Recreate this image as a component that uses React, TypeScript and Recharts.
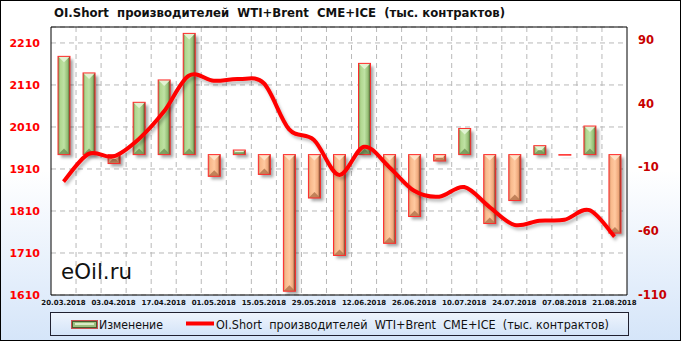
import React from 'react';
import { ComposedChart, Bar, Line, XAxis, YAxis, CartesianGrid, Legend, ReferenceLine } from 'recharts';

const categories = ['20.03.2018','27.03.2018','03.04.2018','10.04.2018','17.04.2018','24.04.2018','01.05.2018','08.05.2018','15.05.2018','22.05.2018','29.05.2018','05.06.2018','12.06.2018','19.06.2018','26.06.2018','03.07.2018','10.07.2018','17.07.2018','24.07.2018','31.07.2018','07.08.2018','14.08.2018','21.08.2018'];
const changeValues = [77, 64, -7, 41, 58.5, 95, -17, 3.6, -15.5, -107, -34, -79, 71.5, -69.5, -48.5, -5, 20.5, -54, -36, 7, -0.4, 22.4, -61.5];
const oiValues = [1880, 1946, 1940, 1981, 2046, 2132, 2120, 2124, 2114, 2005, 1979, 1896, 1963, 1915, 1858, 1844, 1867, 1820, 1777, 1787, 1789, 1812, 1749];
const leftTicks = [1610, 1710, 1810, 1910, 2010, 2110, 2210];
const rightTicks = [-110, -60, -10, 40, 90];
const leftDomain = [1610, 2248];
const rightDomain = [-110, 100];
const titleText = 'OI.Short  производителей  WTI+Brent  CME+ICE  (тыс. контрактов)';
const barName = 'Изменение';
const lineName = 'OI.Short  производителей  WTI+Brent  CME+ICE  (тыс. контрактов)';
const watermark = 'eOil.ru';

const data = categories.map((c, i) => ({ date: c, change: changeValues[i], oi: oiValues[i] }));

const catmullRom = (context: any) => {
  let pts: number[][] = [];
  return {
    areaStart() {},
    areaEnd() {},
    lineStart() { pts = []; },
    point(x: number, y: number) { pts.push([+x, +y]); },
    lineEnd() {
      if (!pts.length) return;
      context.moveTo(pts[0][0], pts[0][1]);
      for (let i = 0; i < pts.length - 1; i++) {
        const p0 = pts[i - 1] || pts[i];
        const p1 = pts[i];
        const p2 = pts[i + 1];
        const p3 = pts[i + 2] || pts[i + 1];
        context.bezierCurveTo(
          p1[0] + (p2[0] - p0[0]) / 6, p1[1] + (p2[1] - p0[1]) / 6,
          p2[0] - (p3[0] - p1[0]) / 6, p2[1] - (p3[1] - p1[1]) / 6,
          p2[0], p2[1]
        );
      }
    },
  };
};

const BevelBar = (props: any) => {
  const { x, y, width, height, payload } = props;
  if (x == null || y == null) return null;
  const top = height < 0 ? y + height : y;
  const h = Math.abs(height);
  const w = width;
  const pos = payload && payload.change >= 0;
  const b = Math.min(w / 2, h / 2, 6);
  return (
    <g>
      <rect x={x + 3} y={top + 3} width={w} height={h} fill="#000" opacity={0.35} filter="url(#blurShadow)" />
      <rect x={x} y={top} width={w} height={h} fill={pos ? 'url(#gradPos)' : 'url(#gradNeg)'} />
      {h > 2 && (
        <polygon
          points={`${x},${top} ${x + w},${top} ${x + w - b},${top + b} ${x + b},${top + b}`}
          fill={pos ? '#e6f5d8' : '#ffe6cc'}
          opacity={0.9}
        />
      )}
      {h > 2 && (
        <polygon
          points={`${x},${top + h} ${x + w},${top + h} ${x + w - b},${top + h - b} ${x + b},${top + h - b}`}
          fill={pos ? '#6f8f52' : '#b2724a'}
          opacity={0.8}
        />
      )}
      <rect x={x} y={top} width={w} height={Math.max(h, 0.5)} fill="none" stroke="#ff2a2a" strokeWidth={1} />
    </g>
  );
};

const LegendContent = () => (
  <div style={{ width: 579, height: 24, border: '1px solid #202030', background: 'linear-gradient(to bottom, #eef4fd, #d4e4f8)', boxSizing: 'border-box' }}>
    <svg width={577} height={22} style={{ display: 'block' }}>
      <rect x={20} y={7} width={27} height={9} fill="#c95050" />
      <rect x={21.5} y={8.5} width={24} height={6} fill="#9cc07e" stroke="#4a5a30" strokeWidth={1} />
      <rect x={24} y={10} width={19} height={2} fill="#d9ecc8" />
      <text x={48} y={15.5} xmlSpace="preserve" style={{ whiteSpace: 'pre' }} fontFamily="DejaVu Sans, Verdana, sans-serif" fontSize={11.5} fill="#111" textLength={64} lengthAdjust="spacingAndGlyphs">{barName}</text>
      <line x1={135} y1={10.5} x2={163} y2={10.5} stroke="#ff0000" strokeWidth={4} />
      <text x={165} y={15.5} xmlSpace="preserve" style={{ whiteSpace: 'pre' }} fontFamily="DejaVu Sans, Verdana, sans-serif" fontSize={11.5} fill="#111" textLength={393} lengthAdjust="spacingAndGlyphs">{lineName}</text>
    </svg>
  </div>
);

export default function App() {
  const vGen = ({ offset }: any) => {
    const arr: number[] = [];
    const n = categories.length;
    for (let k = 1; k < n; k++) arr.push(offset.left + (k * offset.width) / n);
    return arr;
  };
  return (
    <div style={{ position: 'absolute', left: 0, top: 0, width: 681, height: 341, background: 'linear-gradient(to bottom, #ffffff 0%, #ffffff 50%, #d5e5f9 100%)' }}>
      <ComposedChart width={681} height={341} data={data} margin={{ top: 27, right: 0, bottom: 0, left: 0 }} barCategoryGap={0}>
        <defs>
          <filter id="blurShadow" x="-50%" y="-50%" width="200%" height="200%">
            <feGaussianBlur stdDeviation="1.5" />
          </filter>
          <filter id="lineShadow" x="-10%" y="-10%" width="120%" height="130%">
            <feDropShadow dx="2" dy="3" stdDeviation="1.5" floodColor="#000" floodOpacity="0.25" />
          </filter>
          <linearGradient id="gradPos" x1="0" y1="0" x2="1" y2="0">
            <stop offset="0%" stopColor="#6d8a4c" />
            <stop offset="18%" stopColor="#b0d78f" />
            <stop offset="50%" stopColor="#bfe2a4" />
            <stop offset="80%" stopColor="#94be74" />
            <stop offset="100%" stopColor="#4a4a25" />
          </linearGradient>
          <linearGradient id="gradNeg" x1="0" y1="0" x2="1" y2="0">
            <stop offset="0%" stopColor="#c98a62" />
            <stop offset="18%" stopColor="#f8b98c" />
            <stop offset="50%" stopColor="#ffc9a0" />
            <stop offset="80%" stopColor="#eea77a" />
            <stop offset="100%" stopColor="#5e2a18" />
          </linearGradient>
        </defs>
        <CartesianGrid yAxisId="left" fill="#ffffff" stroke="#b8b8b8" strokeDasharray="5 4" verticalCoordinatesGenerator={vGen} />
        <XAxis dataKey="date" interval={1} height={46} tickLine={false} tickSize={0} tickMargin={5}
          axisLine={{ stroke: '#000', strokeWidth: 1 }}
          tick={{ fontFamily: 'DejaVu Sans, Verdana, sans-serif', fontSize: 7, fontWeight: 'bold', fill: '#111' }} />
        <YAxis yAxisId="left" orientation="left" width={51} domain={leftDomain} ticks={leftTicks} allowDataOverflow
          tickLine={false} tickSize={0} tickMargin={11} axisLine={{ stroke: '#000', strokeWidth: 1 }}
          tick={{ fontFamily: 'DejaVu Sans, Verdana, sans-serif', fontSize: 11, fontWeight: 'bold', fill: '#ff0000' }} />
        <YAxis yAxisId="right" orientation="right" width={54} domain={rightDomain} ticks={rightTicks} allowDataOverflow
          tickLine={false} tickSize={0} tickMargin={11} axisLine={{ stroke: '#000', strokeWidth: 1 }}
          tick={{ fontFamily: 'DejaVu Sans, Verdana, sans-serif', fontSize: 11.5, fontWeight: 'bold', fill: '#c80000' }} />
        <ReferenceLine yAxisId="left" y={leftDomain[1]} stroke="#000" strokeWidth={1} ifOverflow="extendDomain" />
        <Legend verticalAlign="middle" align="center" layout="horizontal" content={LegendContent}
          wrapperStyle={{ left: 50, top: 312, width: 579, height: 24 }} />
        <Bar yAxisId="right" dataKey="change" name={barName} barSize={12} shape={BevelBar} isAnimationActive={false} />
        <Line yAxisId="left" dataKey="oi" name={lineName} type={catmullRom as any} stroke="#ff0000" strokeWidth={4}
          dot={false} activeDot={false} filter="url(#lineShadow)" isAnimationActive={false} />
        <text x={54} y={17} xmlSpace="preserve" style={{ whiteSpace: 'pre' }} fontFamily="DejaVu Sans, Verdana, sans-serif" fontSize={12.5} fontWeight="bold" fill="#111" textLength={451} lengthAdjust="spacingAndGlyphs">{titleText}</text>
        <text x={61} y={279} fontFamily="DejaVu Sans, Verdana, sans-serif" fontSize={21} fill="#111" textLength={71} lengthAdjust="spacingAndGlyphs">{watermark}</text>
      </ComposedChart>
      <div style={{ position: 'absolute', left: 0, top: 0, width: 681, height: 341, border: '1px solid #000', boxSizing: 'border-box', pointerEvents: 'none' }} />
    </div>
  );
}
